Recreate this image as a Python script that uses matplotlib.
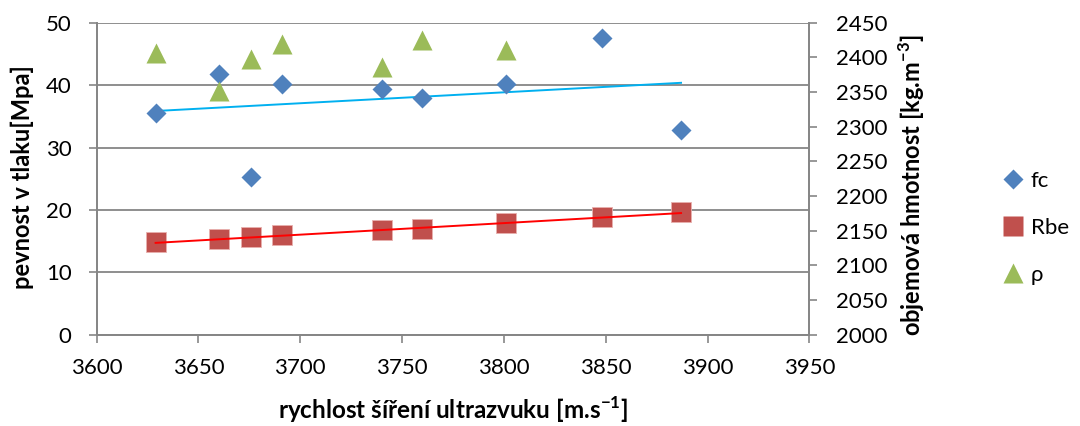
import numpy as np
import matplotlib
matplotlib.use('Agg')
import matplotlib.pyplot as plt
from matplotlib.lines import Line2D

plt.rcParams['font.family'] = ['Lato', 'DejaVu Sans']
plt.rcParams['mathtext.fontset'] = 'custom'
plt.rcParams['mathtext.rm'] = 'Lato'
plt.rcParams['mathtext.bf'] = 'Lato:bold'

# values
rychlost = [3629, 3660, 3676, 3691, 3740, 3760, 3801, 3848, 3887]
fc = [35.5, 41.8, 25.3, 40.1, 39.4, 38.0, 40.2, 47.6, 32.8]
rbe = [14.8, 15.3, 15.6, 15.9, 16.7, 17.0, 17.85, 18.8, 19.6]
rychlost_rho = [3629, 3660, 3676, 3691, 3740, 3760, 3801]
rho = [2406, 2352, 2397, 2419, 2386, 2425, 2410]

x_ticks = [3600, 3650, 3700, 3750, 3800, 3850, 3900, 3950]
y_ticks = [0, 10, 20, 30, 40, 50]
y2_ticks = [2000, 2050, 2100, 2150, 2200, 2250, 2300, 2350, 2400, 2450]

blue = '#4F81BD'
red = '#C0504D'
green = '#9BBB59'
grey = '#868686'
fs = 16

fig = plt.figure(figsize=(10.8, 4.26), dpi=100)
ax = fig.add_axes([0.0894, 0.2143, 0.6600, 0.7324])
ax2 = ax.twinx()

# linear trend lines
xs = np.array([min(rychlost), max(rychlost)])
k, q = np.polyfit(rychlost, fc, 1)
ax.plot(xs, k * xs + q, color='#00B0F0', lw=1.4, zorder=2)
k, q = np.polyfit(rychlost, rbe, 1)
ax.plot(xs, k * xs + q, color='#FF0000', lw=1.4, zorder=4)

ax.plot(rychlost, fc, 'D', color=blue, ms=10, mec='none', zorder=3)
ax.plot(rychlost, rbe, 's', color=red, ms=14, mec='#E8B0AE', mew=0.6, zorder=3)
ax2.plot(rychlost_rho, rho, '^', color=green, ms=14, mec='none', zorder=3)

ax.set_xlim(3600, 3950)
ax.set_ylim(0, 50)
ax2.set_ylim(2000, 2450)
ax.set_xticks(x_ticks)
ax.set_yticks(y_ticks)
ax2.set_yticks(y2_ticks)

ax.grid(axis='y', color=grey, lw=1.3)
ax.set_axisbelow(True)
for a in (ax, ax2):
    for s in a.spines.values():
        s.set_color(grey)
        s.set_linewidth(1.3)
    a.spines['top'].set_visible(False)
ax.tick_params(axis='both', colors=grey, labelcolor='black', labelsize=fs, length=6, width=1.2)
ax.tick_params(axis='y', pad=12)
ax.tick_params(axis='x', pad=11)
ax2.tick_params(axis='y', colors=grey, labelcolor='black', labelsize=fs, length=6, width=1.2, pad=13)

ax.set_ylabel('pevnost v tlaku[Mpa]', fontsize=17, fontweight='bold', va='center')
ax.yaxis.set_label_coords(-0.1044, 0.505)
ax2.set_ylabel(r'objemová hmotnost [kg.m$^{\mathbf{-3}}$]', fontsize=17, fontweight='bold', va='center')
ax2.yaxis.set_label_coords(1.144, 0.48)
ax.set_xlabel(r'rychlost šíření ultrazvuku [m.s$^{\mathbf{-1}}$]', fontsize=17.5, fontweight='bold', va='center')
ax.xaxis.set_label_coords(0.5, -0.24)

handles = [
    Line2D([], [], ls='none', marker='D', color=blue, ms=10, mec='none'),
    Line2D([], [], ls='none', marker='s', color=red, ms=14, mec='none'),
    Line2D([], [], ls='none', marker='^', color=green, ms=14, mec='none'),
]
fig.legend(handles, ['fc', 'Rbe', 'ρ'], loc='center left', bbox_to_anchor=(0.909, 0.465),
           frameon=False, fontsize=fs, handlelength=1.0, handletextpad=0.3, labelspacing=1.2)

fig.savefig('out.png', dpi=100)
